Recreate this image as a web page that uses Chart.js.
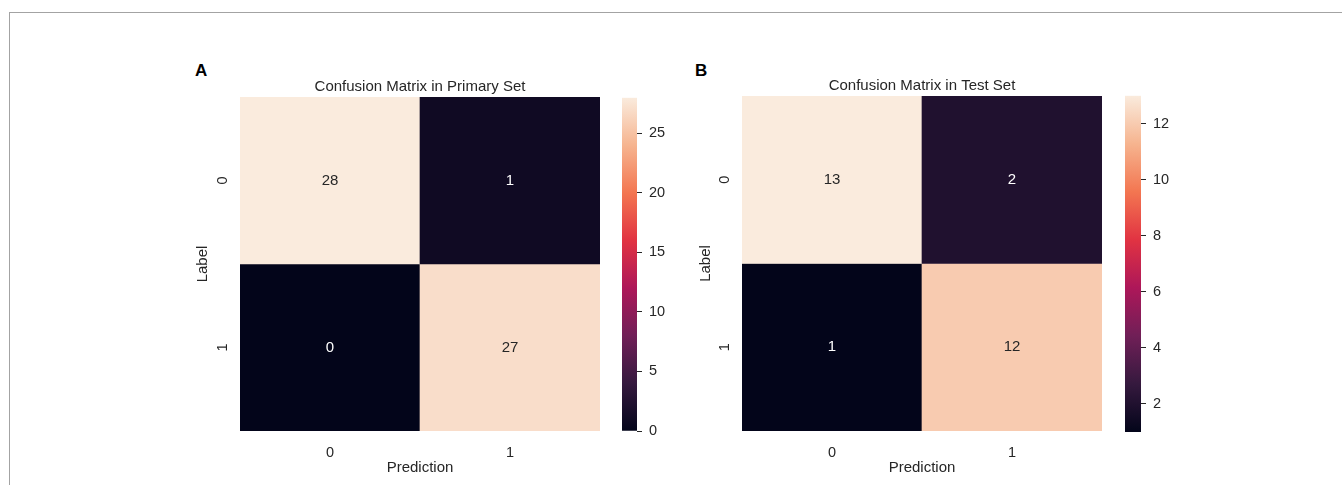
<!DOCTYPE html>
<html><head><meta charset="utf-8">
<script src="https://cdn.jsdelivr.net/npm/chart.js@4.4.1/dist/chart.umd.min.js"></script>
<style>
html,body{margin:0;padding:0;background:#fff;}
body{width:1342px;height:485px;position:relative;overflow:hidden;font-family:"Liberation Sans",Arial,sans-serif;}
.frame{position:absolute;left:9px;top:12px;right:-2px;bottom:-2px;border-top:1px solid #a3a3a3;border-left:1px solid #a3a3a3;}
.box{position:absolute;}
.panel{position:absolute;font-weight:bold;font-size:17px;line-height:1;color:#000;}
</style></head><body>
<div class="frame"></div>
<div class="panel" style="left:195px;top:62px">A</div>
<div class="panel" style="left:695px;top:62px">B</div>
<div class="box" style="left:190px;top:78px;width:420px;height:407px"><canvas id="hmA"></canvas></div>
<div class="box" style="left:612px;top:82px;width:60px;height:403px"><canvas id="cbA"></canvas></div>
<div class="box" style="left:692px;top:77px;width:420px;height:408px"><canvas id="hmB"></canvas></div>
<div class="box" style="left:1115px;top:80px;width:60px;height:405px"><canvas id="cbB"></canvas></div>
<script>
// ---- data ----
const colLabels = ['0', '1'];          // Prediction
const rowLabels = ['0', '1'];          // Label
const primaryMatrix = [[28, 1], [0, 27]];
const testMatrix = [[13, 2], [1, 12]];
const primaryBarTicks = [0, 5, 10, 15, 20, 25];
const testBarTicks = [2, 4, 6, 8, 10, 12];
const primaryTitle = 'Confusion Matrix in Primary Set';
const testTitle = 'Confusion Matrix in Test Set';
const xTitle = 'Prediction';
const yTitle = 'Label';

// ---- rocket colormap ----
const rocketStops = [
  [0, '#03051a'], [1/7, '#35193e'], [2/7, '#701f57'], [3/7, '#ad1759'],
  [4/7, '#e13342'], [5/7, '#f37651'], [6/7, '#f6b48f'], [1, '#faebdd']
];
function hexToRgb(h) { return [1, 3, 5].map(i => parseInt(h.substr(i, 2), 16)); }
function rocket(t) {
  t = Math.max(0, Math.min(1, t));
  for (let k = 0; k < rocketStops.length - 1; k++) {
    const [t0, c0] = rocketStops[k], [t1, c1] = rocketStops[k + 1];
    if (t <= t1) {
      const f = (t - t0) / (t1 - t0), a = hexToRgb(c0), b = hexToRgb(c1);
      return a.map((v, i) => v + (b[i] - v) * f);
    }
  }
  return hexToRgb(rocketStops[rocketStops.length - 1][1]);
}
const rgbStr = c => 'rgb(' + c.map(Math.round).join(',') + ')';

Chart.defaults.font.family = '"Liberation Sans", Arial, sans-serif';
Chart.defaults.color = '#262626';

const annotate = {
  id: 'annot',
  afterDatasetsDraw(chart) {
    const ctx = chart.ctx;
    ctx.save();
    ctx.font = '15px "Liberation Sans", Arial, sans-serif';
    ctx.textAlign = 'center';
    ctx.textBaseline = 'middle';
    chart.data.datasets.forEach((ds, di) => {
      const meta = chart.getDatasetMeta(di);
      meta.data.forEach((el, j) => {
        const c = ds.rgb[j];
        const lum = (0.2126 * c[0] + 0.7152 * c[1] + 0.0722 * c[2]) / 255;
        ctx.fillStyle = lum > 0.5 ? '#262626' : '#ffffff';
        ctx.fillText(String(ds.values[j]), el.x, (el.y + el.base) / 2);
      });
    });
    ctx.restore();
  }
};

function heatmap(id, matrix, title, opts) {
  const flat = matrix.flat();
  const vmin = Math.min(...flat), vmax = Math.max(...flat);
  const datasets = rowLabels.map((r, i) => {
    const rgb = matrix[i].map(v => rocket((v - vmin) / (vmax - vmin)));
    return {
      label: 'Label ' + r,
      data: matrix[i].map(() => [i, i + 1]),
      values: matrix[i],
      rgb: rgb,
      backgroundColor: rgb.map(rgbStr),
      borderWidth: 0, barPercentage: 1, categoryPercentage: 1, grouped: false
    };
  });
  new Chart(document.getElementById(id), {
    type: 'bar',
    data: { labels: colLabels, datasets },
    plugins: [annotate],
    options: {
      responsive: true, maintainAspectRatio: false, animation: false,
      layout: { padding: { left: 0, right: 10, top: 0, bottom: 0 } },
      plugins: {
        legend: { display: false }, tooltip: { enabled: false },
        title: { display: true, text: title, color: '#262626', fullSize: false,
          font: { size: 15, weight: 'normal' }, padding: { top: 0, bottom: opts.titlePad } }
      },
      scales: {
        x: {
          type: 'category', offset: true,
          grid: { display: false }, border: { display: false },
          ticks: { padding: 5, font: { size: 14.5 }, color: '#262626', maxRotation: 0 },
          title: { display: true, text: xTitle, font: { size: 15 }, color: '#262626', padding: 8 },
          afterFit: s => { s.height = 54; }
        },
        y: {
          type: 'linear', min: 0, max: rowLabels.length, reverse: true,
          afterBuildTicks: s => { s.ticks = rowLabels.map((_, i) => ({ value: i + 0.5 })); },
          ticks: { callback: (v, i) => rowLabels[i], minRotation: 90, maxRotation: 90,
            crossAlign: 'center', padding: 5, font: { size: 14.5 }, color: '#262626' },
          grid: { display: false }, border: { display: false },
          title: { display: true, text: yTitle, font: { size: 15 }, color: '#262626', padding: opts.yTitlePad },
          afterFit: s => { s.width = 50; }
        }
      }
    }
  });
}

function colorbar(id, matrix, tickVals, pad, axisWidth) {
  const flat = matrix.flat();
  const vmin = Math.min(...flat), vmax = Math.max(...flat);
  new Chart(document.getElementById(id), {
    type: 'bar',
    data: {
      labels: [''],
      datasets: [{
        data: [[vmin, vmax]],
        backgroundColor: (ctx) => {
          const a = ctx.chart.chartArea;
          if (!a) return '#888';
          const g = ctx.chart.ctx.createLinearGradient(0, a.bottom, 0, a.top);
          rocketStops.forEach(s => g.addColorStop(s[0], s[1]));
          return g;
        },
        borderWidth: 0, barPercentage: 1, categoryPercentage: 1
      }]
    },
    options: {
      responsive: true, maintainAspectRatio: false, animation: false,
      layout: { padding: pad },
      plugins: { legend: { display: false }, tooltip: { enabled: false } },
      scales: {
        x: { display: false },
        y: {
          position: 'right', min: vmin, max: vmax,
          afterBuildTicks: s => { s.ticks = tickVals.map(v => ({ value: v })); },
          ticks: { padding: 7, font: { size: 14.5 }, color: '#262626' },
          grid: { drawOnChartArea: false, drawTicks: true, tickLength: 5, color: '#262626', lineWidth: 1 },
          border: { display: false },
          afterFit: s => { s.width = axisWidth; }
        }
      }
    }
  });
}

heatmap('hmA', primaryMatrix, primaryTitle, { titlePad: 1, yTitlePad: 4 });
colorbar('cbA', primaryMatrix, primaryBarTicks, { left: 10, top: 0, bottom: 54, right: 0 }, 35);
heatmap('hmB', testMatrix, testTitle, { titlePad: 1, yTitlePad: 5 });
colorbar('cbB', testMatrix, testBarTicks, { left: 10, top: 0, bottom: 53, right: 0 }, 34);
</script>
</body></html>
